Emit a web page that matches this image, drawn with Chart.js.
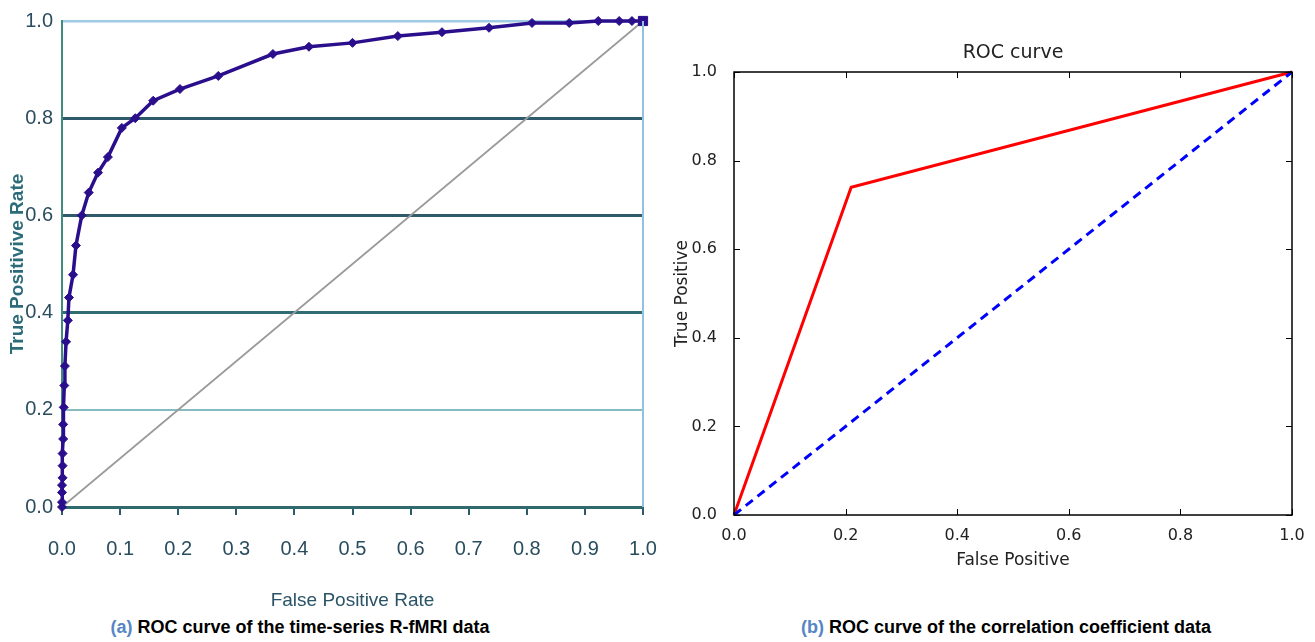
<!DOCTYPE html>
<html>
<head>
<meta charset="utf-8">
<script src="https://cdn.jsdelivr.net/npm/chart.js@4/dist/chart.umd.min.js"></script>
<style>
  html, body { margin: 0; padding: 0; background: #fff; }
  body { width: 1315px; height: 642px; position: relative; overflow: hidden; }
  .panel { position: absolute; top: 0; }
  .caption {
    position: absolute; top: 617px; height: 22px; line-height: 22px;
    font: bold 18px "Liberation Sans", Arial, sans-serif; color: #000;
    text-align: center; white-space: nowrap;
  }
  .caption span { color: #5585c5; }
</style>
</head>
<body>
<div class="panel" style="left:0;width:660px;height:615px"><canvas id="chart-a" width="660" height="615"></canvas></div>
<div class="panel" style="left:660px;width:655px;height:615px"><canvas id="chart-b" width="655" height="615"></canvas></div>
<div class="caption" style="left:80px;width:440px"><span>(a)</span> ROC curve of the time-series R-fMRI data</div>
<div class="caption" style="left:776px;width:460px"><span>(b)</span> ROC curve of the correlation coefficient data</div>

<script>
// (a) time-series R-fMRI ROC points
const fmriFpr = [0, 0, 0, 0, 0.001, 0.001, 0.001, 0.002, 0.002, 0.003, 0.004, 0.005, 0.007,
  0.010, 0.012, 0.019, 0.024, 0.034, 0.046, 0.062, 0.079, 0.103, 0.126, 0.157, 0.203,
  0.269, 0.363, 0.425, 0.50, 0.578, 0.654, 0.735, 0.809, 0.873, 0.923, 0.959, 0.981, 1.0];
const fmriTpr = [0, 0.01, 0.03, 0.045, 0.06, 0.085, 0.11, 0.14, 0.17, 0.205, 0.25, 0.29, 0.34,
  0.384, 0.431, 0.478, 0.538, 0.60, 0.647, 0.688, 0.72, 0.78, 0.80, 0.836, 0.86,
  0.887, 0.932, 0.947, 0.955, 0.969, 0.977, 0.986, 0.996, 0.996, 1.0, 1.0, 1.0, 1.0];

// (b) correlation coefficient ROC
const corrFpr = [0, 0.21, 1];
const corrTpr = [0, 0.74, 1];

// chance diagonal, both panels
const chanceX = [0, 1];
const chanceY = [0, 1];

const pts = (xs, ys) => xs.map((x, i) => ({ x, y: ys[i] }));

// per-gridline look of panel (a)
const gridA = {
  '1.0': ['#9dcbe4', 2.5],
  '0.8': ['#2f5a6c', 3],
  '0.6': ['#2f5a6c', 3],
  '0.4': ['#2f6d72', 3],
  '0.2': ['#86bcc0', 2],
  '0.0': ['#2f6a6e', 3],
};

// no extra side room for the first/last tick label
const noSidePad = (s) => { s.paddingLeft = 0; s.paddingRight = 0; };

const rightBorder = {
  id: 'rightBorder',
  afterDraw(chart, args, opts) {
    const { ctx, chartArea: a } = chart;
    ctx.save();
    ctx.strokeStyle = opts.color;
    ctx.lineWidth = opts.width;
    ctx.beginPath();
    ctx.moveTo(a.right, a.top);
    ctx.lineTo(a.right, a.bottom);
    ctx.stroke();
    ctx.restore();
  },
};

// matplotlib-style frame with inward ticks on all four sides
const mplFrame = {
  id: 'mplFrame',
  afterDatasetsDraw(chart) {
    const { ctx, chartArea: a, scales } = chart;
    const len = 6;
    ctx.save();
    ctx.strokeStyle = '#000';
    ctx.lineWidth = 1;
    ctx.beginPath();
    scales.x.ticks.forEach((t) => {
      const px = Math.round(scales.x.getPixelForValue(t.value)) + 0.5;
      ctx.moveTo(px, a.bottom); ctx.lineTo(px, a.bottom - len);
      ctx.moveTo(px, a.top); ctx.lineTo(px, a.top + len);
    });
    scales.y.ticks.forEach((t) => {
      const py = Math.round(scales.y.getPixelForValue(t.value)) + 0.5;
      ctx.moveTo(a.left, py); ctx.lineTo(a.left + len, py);
      ctx.moveTo(a.right, py); ctx.lineTo(a.right - len, py);
    });
    ctx.stroke();
    ctx.lineWidth = 1.5;
    ctx.strokeRect(a.left, a.top, a.right - a.left, a.bottom - a.top);
    ctx.restore();
  },
};

const lib = '"Liberation Sans", Arial, sans-serif';

new Chart(document.getElementById('chart-a'), {
  type: 'scatter',
  data: {
    datasets: [
      {
        data: pts(fmriFpr, fmriTpr),
        showLine: true,
        borderColor: '#2b0e8c',
        backgroundColor: '#2b0e8c',
        borderWidth: 3.5,
        pointStyle: fmriFpr.map((_, i) => (i === fmriFpr.length - 1 ? 'rect' : 'rectRot')),
        pointRadius: fmriFpr.map((_, i) => (i === fmriFpr.length - 1 ? 6.5 : 4.5)),
        pointBorderWidth: 1,
        clip: false,
        order: 1,
      },
      {
        data: pts(chanceX, chanceY),
        showLine: true,
        borderColor: '#9a9a9a',
        borderWidth: 1.8,
        pointRadius: 0,
        order: 2,
      },
    ],
  },
  options: {
    responsive: false,
    animation: false,
    layout: { padding: { top: 20, right: 17, left: 0, bottom: 0 } },
    plugins: {
      legend: { display: false },
      tooltip: { enabled: false },
      rightBorder: { color: '#92c1e2', width: 2 },
    },
    scales: {
      x: {
        type: 'linear', min: 0, max: 1,
        afterFit: (s) => { s.height = 108; noSidePad(s); },
        grid: { drawOnChartArea: false, drawTicks: true, tickLength: 8, color: '#2f5a6c', lineWidth: 2 },
        border: { display: false },
        ticks: {
          stepSize: 0.1, padding: 22, color: '#2a4d5e',
          font: { family: lib, size: 20 },
          callback: (v) => v.toFixed(1),
        },
        title: {
          display: true, text: 'False Positive Rate', color: '#2a5466',
          font: { family: lib, size: 19 }, padding: { top: 0, bottom: 3 },
        },
      },
      y: {
        type: 'linear', min: 0, max: 1,
        afterFit: (s) => { s.width = 62; },
        grid: {
          drawTicks: false,
          color: (c) => (gridA[c.tick.value.toFixed(1)] || ['#2f5a6c'])[0],
          lineWidth: (c) => (gridA[c.tick.value.toFixed(1)] || [0, 2])[1],
        },
        border: { display: true, color: '#3f8c7f', width: 2 },
        ticks: {
          stepSize: 0.2, padding: 9, color: '#2a4d5e',
          font: { family: lib, size: 20 },
          callback: (v) => v.toFixed(1),
        },
        title: {
          display: true, text: 'True Positivive Rate', color: '#2c6b78',
          font: { family: lib, size: 19, weight: 'bold' },
          padding: { top: 6, bottom: 0 },
        },
      },
    },
  },
  plugins: [rightBorder],
});

const dv = '"DejaVu Sans", sans-serif';

new Chart(document.getElementById('chart-b'), {
  type: 'scatter',
  data: {
    datasets: [
      {
        data: pts(corrFpr, corrTpr),
        showLine: true,
        borderColor: '#ff0000',
        borderWidth: 3,
        pointRadius: 0,
        clip: false,
        order: 2,
      },
      {
        data: pts(chanceX, chanceY),
        showLine: true,
        borderColor: '#0000ff',
        borderWidth: 3,
        borderDash: [9, 6],
        pointRadius: 0,
        clip: false,
        order: 1,
      },
    ],
  },
  options: {
    responsive: false,
    animation: false,
    layout: { padding: { top: 0, right: 23, left: 0, bottom: 0 } },
    plugins: {
      legend: { display: false },
      tooltip: { enabled: false },
    },
    scales: {
      x: {
        type: 'linear', min: 0, max: 1,
        afterFit: (s) => { s.height = 100; noSidePad(s); },
        grid: { display: false },
        border: { display: false },
        ticks: {
          stepSize: 0.2, padding: 3, color: '#222',
          font: { family: dv, size: 16 },
          callback: (v) => v.toFixed(1),
        },
        title: {
          display: true, text: 'False Positive', color: '#222',
          font: { family: dv, size: 17 }, padding: { top: 0, bottom: 44 },
        },
      },
      // top axis only carries the plot title, centred on the plot box
      top: {
        type: 'linear', position: 'top', min: 0, max: 1,
        afterFit: (s) => { s.height = 72; noSidePad(s); },
        grid: { display: false },
        border: { display: false },
        ticks: { display: false },
        title: {
          display: true, text: 'ROC curve', color: '#222',
          font: { family: dv, size: 19 }, padding: { top: 42, bottom: 0 },
        },
      },
      y: {
        type: 'linear', min: 0, max: 1,
        afterFit: (s) => { s.width = 74; },
        grid: { display: false },
        border: { display: false },
        ticks: {
          stepSize: 0.2, padding: 9, color: '#222',
          font: { family: dv, size: 16 },
          callback: (v) => v.toFixed(1),
        },
        title: {
          display: true, text: 'True Positive', color: '#222',
          font: { family: dv, size: 17 }, padding: { top: 12, bottom: 0 },
        },
      },
    },
  },
  plugins: [mplFrame],
});
</script>
</body>
</html>
